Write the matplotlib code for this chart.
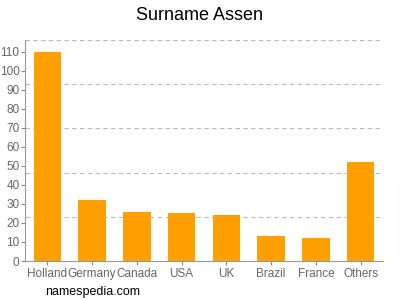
import matplotlib
matplotlib.use("Agg")
import matplotlib.pyplot as plt
import numpy as np

plt.rcParams["font.family"] = ["Liberation Sans", "DejaVu Sans"]

countries = ["Holland", "Germany", "Canada", "USA", "UK", "Brazil", "France", "Others"]
counts = [110, 32, 26, 25, 24, 13, 12, 52]
yticks = list(range(0, 111, 10))

fig = plt.figure(figsize=(4, 3), dpi=100)
ax = fig.add_axes([0.0625, 0.13, 0.895, 0.7367])

x = np.arange(len(countries))
ax.bar(x, counts, width=0.62, color="#ffa000", zorder=2)

ymax = 116.3
ax.set_ylim(0, ymax)
ax.set_xlim(-0.5, len(countries) - 0.5)
for g in np.linspace(0, ymax, 6)[1:]:
    ax.axhline(g, color="#bbbbbb", lw=0.8, ls=(0, (4, 3)), zorder=1)

ax.set_yticks(yticks)
ax.set_xticks(x)
ax.set_xticklabels(countries)
ax.tick_params(axis="both", colors="#888888", labelcolor="#666666", labelsize=8.5, length=3, width=0.8)
ax.tick_params(axis="x", pad=2)
ax.tick_params(axis="y", pad=1)

for s in ["top", "right"]:
    ax.spines[s].set_visible(False)
for s in ["left", "bottom"]:
    ax.spines[s].set_color("#999999")
    ax.spines[s].set_linewidth(0.8)

fig.text(0.5, 0.95, "Surname Assen", ha="center", va="center", fontsize=13)
fig.text(0.112, 0.027, "namespedia.com", ha="left", va="center", fontsize=9)

fig.savefig("out.png", dpi=100)
